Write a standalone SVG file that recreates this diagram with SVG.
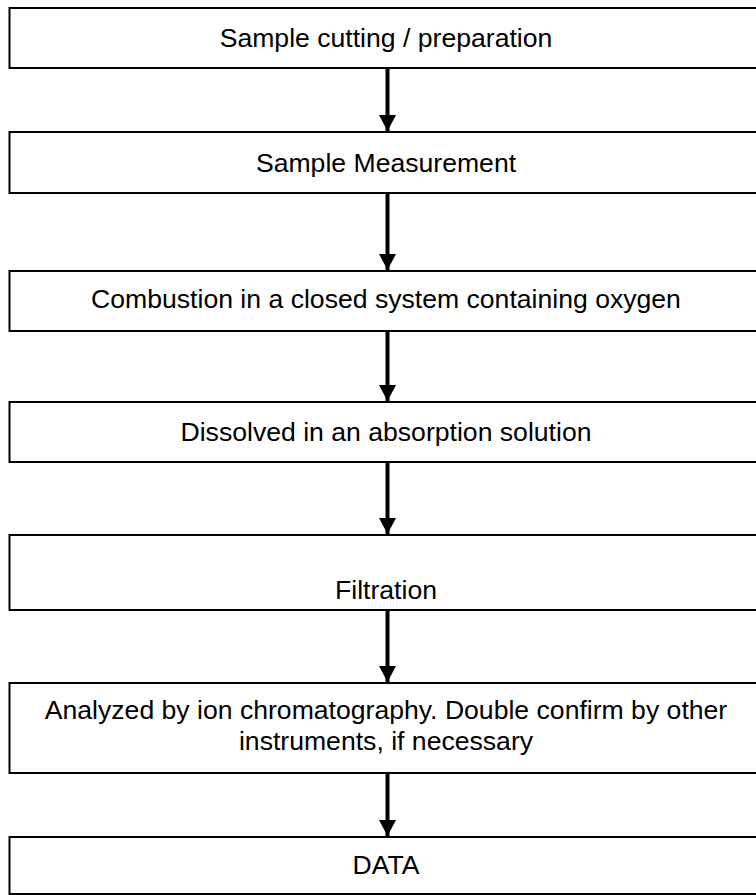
<svg xmlns="http://www.w3.org/2000/svg" width="756" height="895" viewBox="0 0 756 895">
<style>
.box{fill:#fff;stroke:#000;stroke-width:2}
.lbl{font-family:"Liberation Sans",Arial,sans-serif;font-size:26.6px;fill:#000;text-anchor:middle}
.con{stroke:#000;stroke-width:4;fill:none}
</style>
<defs>
<marker id="ah" markerUnits="userSpaceOnUse" markerWidth="18" markerHeight="17" refX="16" refY="8.5" orient="auto">
<path d="M0,0 L16,8.5 L0,17 Z" fill="#000"/>
</marker>
</defs>
<rect width="756" height="895" fill="#fff"/>
<g id="n1"><rect class="box" x="9.5" y="8" width="760" height="60"/><text class="lbl" x="386" y="47">Sample cutting / preparation</text></g>
<g id="n2"><rect class="box" x="9.5" y="132" width="760" height="61"/><text class="lbl" x="386" y="172">Sample Measurement</text></g>
<g id="n3"><rect class="box" x="9.5" y="271" width="760" height="60"/><text class="lbl" x="386" y="308">Combustion in a closed system containing oxygen</text></g>
<g id="n4"><rect class="box" x="9.5" y="402" width="760" height="60"/><text class="lbl" x="386" y="441">Dissolved in an absorption solution</text></g>
<g id="n5"><rect class="box" x="9.5" y="535" width="760" height="75"/><text class="lbl" x="386" y="599">Filtration</text></g>
<g id="n6"><rect class="box" x="9.5" y="683" width="760" height="90"/><text class="lbl" x="386" y="719">Analyzed by ion chromatography. Double confirm by other</text><text class="lbl" x="386" y="750">instruments, if necessary</text></g>
<g id="n7"><rect class="box" x="9.5" y="837" width="760" height="57"/><text class="lbl" x="386" y="874">DATA</text></g>
<g id="connectors">
<line class="con" x1="387.5" y1="69" x2="387.5" y2="131" marker-end="url(#ah)"/>
<line class="con" x1="387.5" y1="194" x2="387.5" y2="270" marker-end="url(#ah)"/>
<line class="con" x1="387.5" y1="332" x2="387.5" y2="401" marker-end="url(#ah)"/>
<line class="con" x1="387.5" y1="463" x2="387.5" y2="534" marker-end="url(#ah)"/>
<line class="con" x1="387.5" y1="611" x2="387.5" y2="682" marker-end="url(#ah)"/>
<line class="con" x1="387.5" y1="774" x2="387.5" y2="836" marker-end="url(#ah)"/>
</g>
</svg>
